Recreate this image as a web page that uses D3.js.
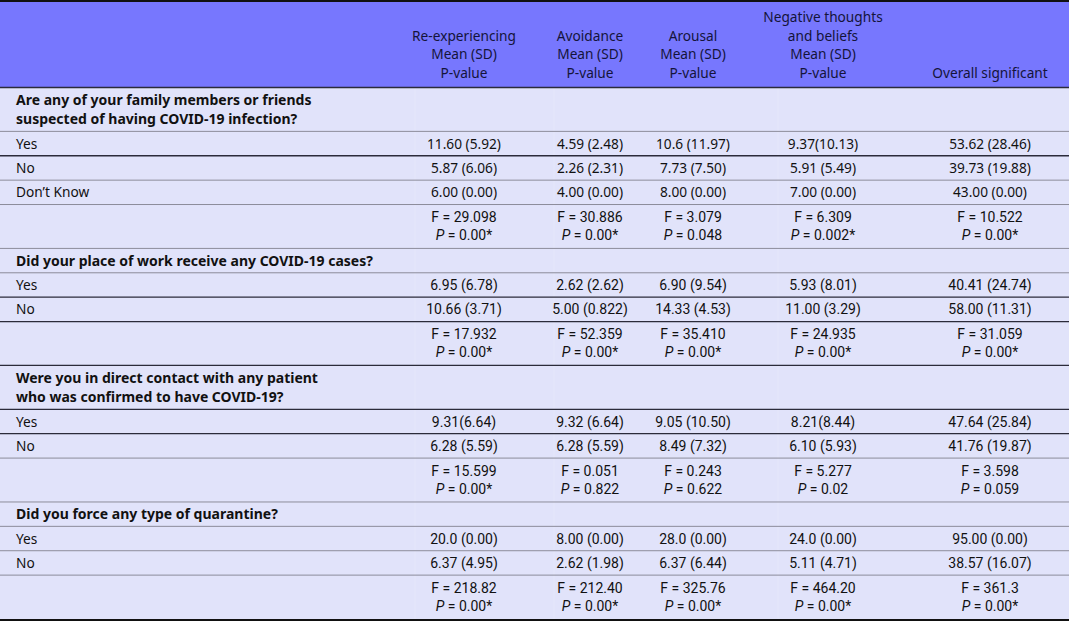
<!DOCTYPE html>
<html><head><meta charset="utf-8">
<script src="https://cdn.jsdelivr.net/npm/d3@7"></script>
<style>
html,body{margin:0;padding:0;background:#fff;}
svg{display:block;}
</style></head>
<body>
<svg id="chart" width="1069" height="621"></svg>
<script>
// ---- data ----
const headers = [
  ["Re-experiencing","Mean (SD)","P-value"],
  ["Avoidance","Mean (SD)","P-value"],
  ["Arousal","Mean (SD)","P-value"],
  ["Negative thoughts","and beliefs","Mean (SD)","P-value"],
  ["Overall significant"]
];
const questions = [
  ["Are any of your family members or friends","suspected of having COVID-19 infection?"],
  ["Did your place of work receive any COVID-19 cases?"],
  ["Were you in direct contact with any patient","who was confirmed to have COVID-19?"],
  ["Did you force any type of quarantine?"]
];
const answers = [
  ["Yes","No","Don’t Know"],
  ["Yes","No"],
  ["Yes","No"],
  ["Yes","No"]
];
const meanSD = [
  [["11.60 (5.92)","4.59 (2.48)","10.6 (11.97)","9.37(10.13)","53.62 (28.46)"],
   ["5.87 (6.06)","2.26 (2.31)","7.73 (7.50)","5.91 (5.49)","39.73 (19.88)"],
   ["6.00 (0.00)","4.00 (0.00)","8.00 (0.00)","7.00 (0.00)","43.00 (0.00)"]],
  [["6.95 (6.78)","2.62 (2.62)","6.90 (9.54)","5.93 (8.01)","40.41 (24.74)"],
   ["10.66 (3.71)","5.00 (0.822)","14.33 (4.53)","11.00 (3.29)","58.00 (11.31)"]],
  [["9.31(6.64)","9.32 (6.64)","9.05 (10.50)","8.21(8.44)","47.64 (25.84)"],
   ["6.28 (5.59)","6.28 (5.59)","8.49 (7.32)","6.10 (5.93)","41.76 (19.87)"]],
  [["20.0 (0.00)","8.00 (0.00)","28.0 (0.00)","24.0 (0.00)","95.00 (0.00)"],
   ["6.37 (4.95)","2.62 (1.98)","6.37 (6.44)","5.11 (4.71)","38.57 (16.07)"]]
];
const fValues = [
  ["29.098","30.886","3.079","6.309","10.522"],
  ["17.932","52.359","35.410","24.935","31.059"],
  ["15.599","0.051","0.243","5.277","3.598"],
  ["218.82","212.40","325.76","464.20","361.3"]
];
const pValues = [
  ["0.00*","0.00*","0.048","0.002*","0.00*"],
  ["0.00*","0.00*","0.00*","0.00*","0.00*"],
  ["0.00*","0.822","0.622","0.02","0.059"],
  ["0.00*","0.00*","0.00*","0.00*","0.00*"]
];

// ---- layout ----
const W = 1069;
const svg = d3.select("#chart");
const wideFont = "'Noto Sans', 'Open Sans', sans-serif";
const narrowFont = "Roboto, 'Liberation Sans', sans-serif";

const rows = [];
questions.forEach((q, qi) => {
  rows.push({type:"q", lines:q, qi});
  answers[qi].forEach((a, ai) => rows.push({type:"a", label:a, vals:meanSD[qi][ai], qi, ai}));
  rows.push({type:"f", f:fValues[qi], p:pValues[qi], qi});
});
rows.forEach(r => r.units = (r.type === "f" || (r.type === "q" && r.lines.length > 1)) ? 1.8 : 1);
let acc = 0;
rows.forEach(r => { r.u0 = acc; acc += r.units; r.u1 = acc; });
const y = d3.scaleLinear().domain([0, acc]).range([87.5, 619]);

const colX = d3.scaleOrdinal().domain(d3.range(headers.length)).range([464, 590, 693, 823, 990]);

svg.append("rect").attr("x",0).attr("y",0).attr("width",W).attr("height",87.5).attr("fill","#7777fe");
svg.append("rect").attr("x",0).attr("y",87.5).attr("width",W).attr("height",619-87.5).attr("fill","#e1e3fa");

[415, 554, 778].forEach(x => {
  svg.append("line").attr("x1",x).attr("x2",x).attr("y1",88).attr("y2",619)
    .attr("stroke","#ffffff").attr("stroke-opacity",0.15).attr("stroke-width",1);
});

const hg = svg.append("g").attr("font-family", wideFont).attr("font-size", 13.7).attr("fill","#14143a");
headers.forEach((h, i) => {
  const n = h.length;
  h.forEach((line, li) => {
    hg.append("text").attr("x", colX(i)).attr("y", 78 - (n - 1 - li) * 18.7)
      .attr("text-anchor","middle").text(line);
  });
});

const darkAfter = new Set();
rows.forEach((r, ri) => {
  if ((r.qi === 0 && r.type==="a" && r.ai === 0) ||
      (r.qi === 1 && r.type !== "q") ||
      (r.qi === 2 && r.type === "q") ||
      (r.qi === 2 && r.type === "a" && r.ai === 0)) darkAfter.add(ri);
});

const bg = svg.append("g").attr("fill","#111");
rows.forEach((r, ri) => {
  const top = y(r.u0), bot = y(r.u1), mid = (top + bot) / 2;
  const narrow = r.qi > 0;
  if (r.type === "q") {
    const n = r.lines.length;
    r.lines.forEach((line, li) => {
      bg.append("text").attr("x", 16).attr("y", mid + 5 + (li - (n - 1) / 2) * 19)
        .attr("font-family", wideFont).attr("font-weight","bold").attr("font-size", 14)
        .text(line);
    });
  } else if (r.type === "a") {
    bg.append("text").attr("x", 16).attr("y", mid + 5)
      .attr("font-family", wideFont).attr("font-size", 13.7).text(r.label);
    r.vals.forEach((v, ci) => {
      bg.append("text").attr("x", colX(ci)).attr("y", mid + 5)
        .attr("text-anchor","middle")
        .attr("font-family", narrow ? narrowFont : wideFont)
        .attr("font-size", narrow ? 14 : 13.7).text(v);
    });
  } else {
    r.f.forEach((v, ci) => {
      bg.append("text").attr("x", colX(ci)).attr("y", mid - 4)
        .attr("text-anchor","middle").attr("font-family", narrowFont).attr("font-size", 14)
        .text("F = " + v);
      const t = bg.append("text").attr("x", colX(ci)).attr("y", mid + 14)
        .attr("text-anchor","middle").attr("font-family", narrowFont).attr("font-size", 14);
      t.append("tspan").attr("font-style","italic").text("P");
      t.append("tspan").text(" = " + r.p[ci]);
    });
  }
  if (ri < rows.length - 1) {
    svg.append("line").attr("x1",0).attr("x2",W).attr("y1",bot).attr("y2",bot)
      .attr("stroke", darkAfter.has(ri) ? "#2b2b3a" : "#8c8c9a")
      .attr("stroke-width", darkAfter.has(ri) ? 1.3 : 1);
  }
});

svg.append("line").attr("x1",0).attr("x2",W).attr("y1",87.5).attr("y2",87.5).attr("stroke","#2b2b3a").attr("stroke-width",1.5);
svg.append("line").attr("x1",0).attr("x2",W).attr("y1",1).attr("y2",1).attr("stroke","#111").attr("stroke-width",2);
svg.append("line").attr("x1",0).attr("x2",W).attr("y1",620).attr("y2",620).attr("stroke","#111").attr("stroke-width",2);
</script>
</body></html>
